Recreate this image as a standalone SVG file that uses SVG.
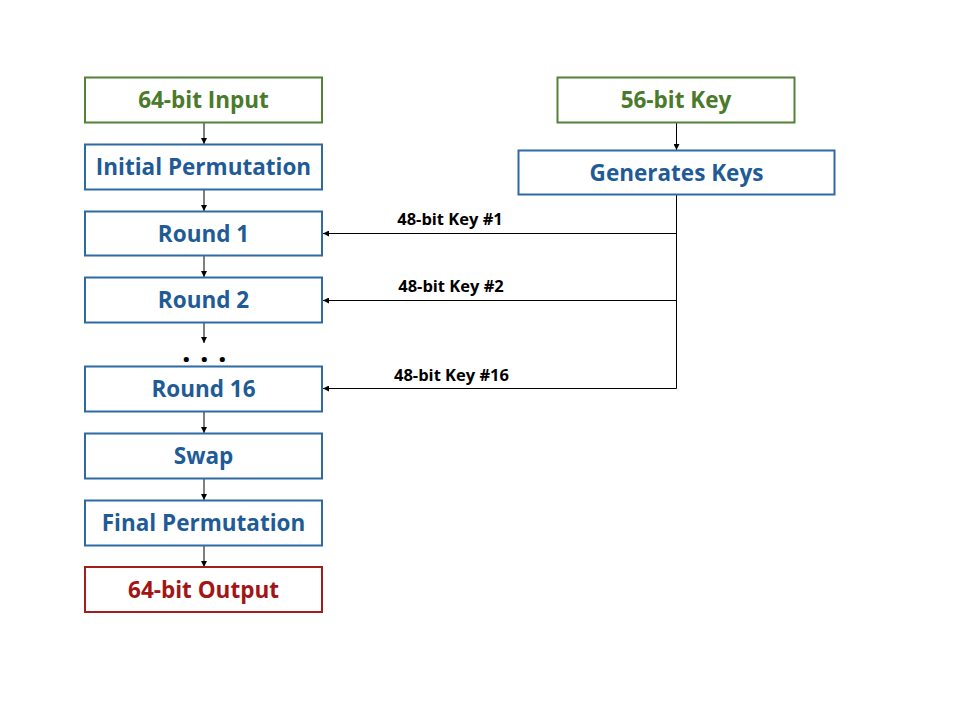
<svg xmlns="http://www.w3.org/2000/svg" width="960" height="720" viewBox="0 0 960 720">
<defs>
<style>
.box{fill:#fff;stroke-width:2}
.g{stroke:#538135}
.b{stroke:#2e6aa6}
.r{stroke:#a51c1c}
.t{font-family:"Open Sans","DejaVu Sans",sans-serif;font-weight:bold;font-size:22.5px;text-anchor:middle}
.tg{fill:#4a7a2a}
.tb{fill:#1f5b96}
.tr{fill:#a31515}
.lbl{font-family:"Open Sans","DejaVu Sans",sans-serif;font-weight:bold;font-size:16.5px;text-anchor:middle;fill:#000}
.c{stroke:#000;stroke-width:1;fill:none}
</style>
<marker id="ah" viewBox="0 0 10 10" refX="10" refY="5" markerWidth="6" markerHeight="6" markerUnits="userSpaceOnUse" orient="auto">
<path d="M0,0 L10,5 L0,10 z" fill="#000"/>
</marker>
</defs>
<rect width="960" height="720" fill="#fff"/>
<g id="connectors">
<line class="c" x1="204" y1="122" x2="204" y2="144" marker-end="url(#ah)"/>
<line class="c" x1="204" y1="189" x2="204" y2="211" marker-end="url(#ah)"/>
<line class="c" x1="204" y1="256" x2="204" y2="277" marker-end="url(#ah)"/>
<line class="c" x1="204" y1="322" x2="204" y2="343" marker-end="url(#ah)"/>
<line class="c" x1="204" y1="411" x2="204" y2="433" marker-end="url(#ah)"/>
<line class="c" x1="204" y1="478" x2="204" y2="500" marker-end="url(#ah)"/>
<line class="c" x1="204" y1="545" x2="204" y2="567" marker-end="url(#ah)"/>
<line class="c" x1="676.5" y1="122" x2="676.5" y2="150" marker-end="url(#ah)"/>
<polyline class="c" points="676.5,195 676.5,388.5"/>
<line class="c" x1="676.5" y1="233.5" x2="323" y2="233.5" marker-end="url(#ah)"/>
<line class="c" x1="676.5" y1="300.5" x2="323" y2="300.5" marker-end="url(#ah)"/>
<line class="c" x1="676.5" y1="388.5" x2="323" y2="388.5" marker-end="url(#ah)"/>
<text class="lbl" x="450" y="225">48-bit Key #1</text>
<text class="lbl" x="451" y="292">48-bit Key #2</text>
<text class="lbl" x="451.5" y="381">48-bit Key #16</text>
</g>
<g id="input"><rect class="box g" x="85" y="77.5" width="237" height="45"/><text class="t tg" x="203.5" y="108">64-bit Input</text></g>
<g id="ip"><rect class="box b" x="85" y="144.5" width="237" height="45"/><text class="t tb" x="203.5" y="175">Initial Permutation</text></g>
<g id="round1"><rect class="box b" x="85" y="211.5" width="237" height="44"/><text class="t tb" x="203.5" y="241.5">Round 1</text></g>
<g id="round2"><rect class="box b" x="85" y="277.5" width="237" height="45"/><text class="t tb" x="203.5" y="308">Round 2</text></g>
<g id="dots"><text class="t" x="209" y="362" style="font-size:30px;letter-spacing:9.5px;fill:#000">...</text></g>
<g id="round16"><rect class="box b" x="85" y="366.5" width="237" height="45"/><text class="t tb" x="203.5" y="397">Round 16</text></g>
<g id="swap"><rect class="box b" x="85" y="433.5" width="237" height="45"/><text class="t tb" x="203.5" y="464">Swap</text></g>
<g id="fp"><rect class="box b" x="85" y="500.5" width="237" height="45"/><text class="t tb" x="203.5" y="531">Final Permutation</text></g>
<g id="output"><rect class="box r" x="85" y="567" width="237" height="45"/><text class="t tr" x="203.5" y="597.5">64-bit Output</text></g>
<g id="key56"><rect class="box g" x="557.5" y="77.5" width="237" height="45"/><text class="t tg" x="676" y="108">56-bit Key</text></g>
<g id="genkeys"><rect class="box b" x="518.5" y="150.5" width="316" height="44"/><text class="t tb" x="676.5" y="181">Generates Keys</text></g>
</svg>
